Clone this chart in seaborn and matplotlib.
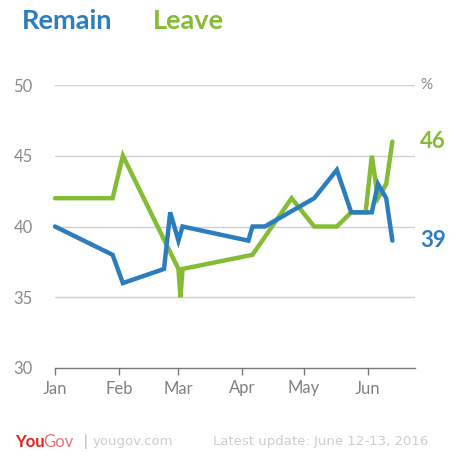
import matplotlib
matplotlib.use("Agg")
import matplotlib.pyplot as plt
import seaborn as sns
import pandas as pd

# ---- data ----
remain_dates = ["2016-01-01", "2016-01-29", "2016-02-03", "2016-02-23", "2016-02-26",
                "2016-03-01", "2016-03-03", "2016-04-04", "2016-04-06", "2016-04-12",
                "2016-05-06", "2016-05-17", "2016-05-24", "2016-06-03", "2016-06-06",
                "2016-06-10", "2016-06-13"]
remain_values = [40, 38, 36, 37, 41, 39, 40, 39, 40, 40, 42, 44, 41, 41, 43, 42, 39]

leave_dates = ["2016-01-01", "2016-01-29", "2016-02-03", "2016-03-01", "2016-03-02",
               "2016-03-03", "2016-04-06", "2016-04-25", "2016-05-06", "2016-05-17",
               "2016-05-24", "2016-05-31", "2016-06-03", "2016-06-06", "2016-06-10",
               "2016-06-13"]
leave_values = [42, 42, 45, 37, 35, 37, 38, 42, 40, 40, 41, 41, 45, 42, 43, 46]

month_ticks = ["2016-01-01", "2016-02-01", "2016-03-01", "2016-04-01", "2016-05-01", "2016-06-01"]
month_labels = ["Jan", "Feb", "Mar", "Apr", "May", "Jun"]
y_ticks = [30, 35, 40, 45, 50]

BLUE = "#2c7dc0"
GREEN = "#84bd35"

remain = pd.DataFrame({"date": pd.to_datetime(remain_dates), "value": remain_values})
leave = pd.DataFrame({"date": pd.to_datetime(leave_dates), "value": leave_values})

sns.set_theme(style="white")
plt.rcParams["font.family"] = ["Lato", "DejaVu Sans"]

fig = plt.figure(figsize=(4.59, 4.59), dpi=100)
ax = fig.add_axes([55 / 459, 1 - 368 / 459, 360 / 459, 283 / 459])

for y in y_ticks[1:]:
    ax.axhline(y, color="#cfcfcf", lw=1.0, zorder=0)

sns.lineplot(data=leave, x="date", y="value", ax=ax, color=GREEN, lw=3.2,
             solid_joinstyle="miter", clip_on=False, zorder=3)
sns.lineplot(data=remain, x="date", y="value", ax=ax, color=BLUE, lw=3.2,
             solid_joinstyle="miter", clip_on=False, zorder=4)

ax.set_xlim(pd.Timestamp("2016-01-01"), pd.Timestamp("2016-06-24"))
ax.set_ylim(30, 50)
ax.set_xticks(pd.to_datetime(month_ticks))
ax.set_xticklabels(month_labels)
ax.set_yticks(y_ticks)
ax.set_yticklabels([str(v) for v in y_ticks])
ax.set_xlabel("")
ax.set_ylabel("")

for s in ["top", "right", "left"]:
    ax.spines[s].set_visible(False)
ax.spines["bottom"].set_color("#777777")
ax.spines["bottom"].set_linewidth(1.0)
ax.tick_params(axis="x", direction="out", length=5, width=1, color="#777777",
               labelcolor="#808080", labelsize=12, pad=4, bottom=True)
ax.tick_params(axis="y", length=0, labelcolor="#8a8a8a", labelsize=12, pad=16)

# end labels
ax.text(1.015, 50, "%", transform=ax.get_yaxis_transform(), color="#888888",
        fontsize=11, va="center", ha="left")
ax.text(1.015, leave_values[-1], str(leave_values[-1]), transform=ax.get_yaxis_transform(),
        color=GREEN, fontsize=16, fontweight="bold", va="center", ha="left")
ax.text(1.015, remain_values[-1], str(remain_values[-1]), transform=ax.get_yaxis_transform(),
        color=BLUE, fontsize=16, fontweight="bold", va="center", ha="left")

# title legend
fig.text(22 / 459, 1 - 21 / 459, "Remain", color=BLUE, fontsize=19.5, fontweight="bold",
         va="center", ha="left")
fig.text(153 / 459, 1 - 21 / 459, "Leave", color=GREEN, fontsize=19.5, fontweight="bold",
         va="center", ha="left")

# footer
fy = 1 - 442 / 459
fig.text(15 / 459, fy, "You", color="#e2231a", fontsize=12, fontweight="bold",
         va="center", ha="left")
fig.text(43.5 / 459, fy, "Gov", color="#e8707a", fontsize=12,
         va="center", ha="left")
fig.text(84 / 459, fy, "|", color="#aaaaaa", fontsize=11,
         va="center", ha="left")
fig.text(93 / 459, fy, "yougov.com", color="#cccccc", fontsize=9.5,
         family="DejaVu Sans", va="center", ha="left")
fig.text(213 / 459, fy, "Latest update: June 12-13, 2016", color="#cccccc",
         fontsize=9.5, family="DejaVu Sans", va="center", ha="left")

fig.savefig("out.png", dpi=100)
